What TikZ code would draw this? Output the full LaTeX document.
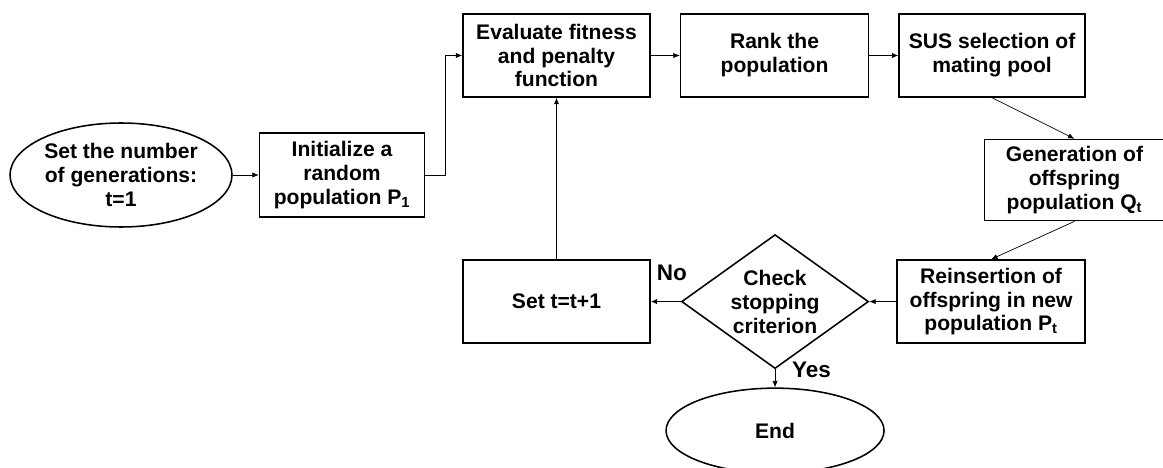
\documentclass[tikz,border=0pt]{standalone}
\usepackage{fontspec}
\setmainfont{Liberation Sans}
\usetikzlibrary{shapes.geometric, arrows.meta, positioning}

\begin{document}
\begin{tikzpicture}[
  node distance=0.7cm and 0.7cm,
  process/.style={rectangle, draw, line width=1.1pt, minimum width=4.675cm, minimum height=2.075cm, inner sep=0pt, align=center, font=\fontsize{15}{17}\selectfont\bfseries},
  terminal/.style={ellipse, draw, line width=1.1pt, inner sep=0pt, align=center, font=\fontsize{15}{17}\selectfont\bfseries},
  decision/.style={diamond, draw, line width=1.1pt, aspect=1.4, inner sep=0pt, minimum width=4.675cm, minimum height=3.35cm, align=center, font=\fontsize{15}{17}\selectfont\bfseries},
  arrowstyle/.style={-{Latex[length=1.6mm, width=1.3mm]}, line width=0.5pt},
  answer/.style={font=\fontsize{16}{18}\selectfont\bfseries}
]
\useasboundingbox (0,0) rectangle (29.075,-11.7);

\node[terminal, minimum width=5.55cm, minimum height=2.6cm] (A) at (3.025,-4.375) {Set the number\\of generations:\\t=1};
\node[process, right=0.65cm of A, minimum width=4.125cm, minimum height=2.1cm] (B) {Initialize a\\random\\population P\textsubscript{1}};

\node[process] (C) at (13.9125,-1.3875) {Evaluate fitness\\and penalty\\function};
\node[process, right=0.725cm of C, minimum width=4.7cm] (D) {Rank the\\population};
\node[process, right=0.725cm of D, minimum width=4.65cm] (E) {SUS selection of\\mating pool};
\node[process, below=1.025cm of E, xshift=2.06cm, minimum width=4.5cm, minimum height=2.025cm] (F) {Generation of\\offspring\\population Q\textsubscript{t}};
\node[process, below=0.95cm of F, xshift=-2.085cm, minimum width=4.7cm] (G) {Reinsertion of\\offspring in new\\population P\textsubscript{t}};

\node[decision, left=0.675cm of G] (H) {Check\\stopping\\criterion};
\node[process, left=0.75cm of H] (I) {Set t=t+1};
\node[terminal, below=0.45cm of H, minimum width=5.45cm, minimum height=2.125cm] (J) {End};

\draw[arrowstyle] (A) -- (B);
\draw[arrowstyle] (B.east) -- ++(0.5,0) |- (C.west);
\draw[arrowstyle] (C) -- (D);
\draw[arrowstyle] (D) -- (E);
\draw[arrowstyle] (E.south) -- (F.north);
\draw[arrowstyle] (F.south) -- (G.north);
\draw[arrowstyle] (G) -- (H);
\draw[arrowstyle] (H) -- node[answer, above=11pt, pos=0.3]{No} (I);
\draw[arrowstyle] (I) -- (C);
\draw[arrowstyle] (H) -- node[answer, right=0.3cm, pos=0.02]{Yes} (J);

\end{tikzpicture}
\end{document}
